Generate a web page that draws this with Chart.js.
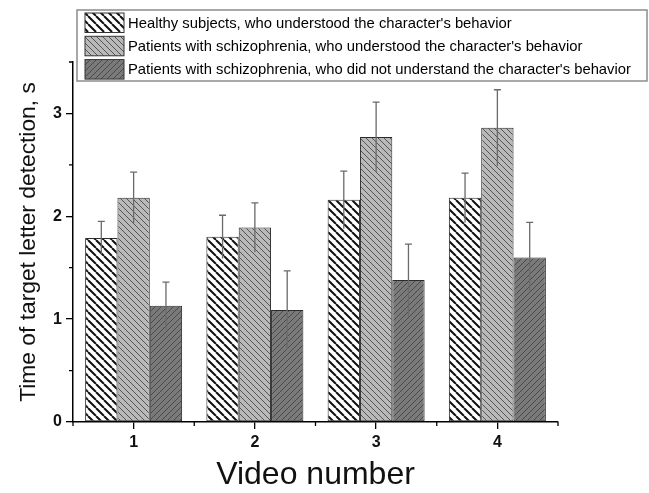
<!DOCTYPE html>
<html>
<head>
<meta charset="utf-8">
<script src="https://cdn.jsdelivr.net/npm/chart.js@4.4.0/dist/chart.umd.min.js"></script>
<style>
  html, body { margin: 0; padding: 0; background: #fff; }
  #wrap { width: 649px; height: 493px; }
</style>
</head>
<body>
<div id="wrap"><canvas id="bar-chart" width="649" height="493"></canvas></div>
<script>
// video clips on the x axis
const videos = ['1', '2', '3', '4'];

const seriesNames = [
  "Healthy subjects, who understood the character's behavior",
  "Patients with schizophrenia, who understood the character's behavior",
  "Patients with schizophrenia, who did not understand the character's behavior"
];

// mean detection time (s) and its error
const healthyTimes = [1.79, 1.80, 2.16, 2.18];
const healthyErr = [0.16, 0.21, 0.28, 0.24];
const understoodTimes = [2.18, 1.89, 2.77, 2.86];
const understoodErr = [0.25, 0.24, 0.34, 0.37];
const notUnderstoodTimes = [1.13, 1.09, 1.38, 1.60];
const notUnderstoodErr = [0.23, 0.38, 0.35, 0.34];

const yTicks = [0, 1, 2, 3];
const yMinorTicks = [0.5, 1.5, 2.5, 3.5];
const xMinorTicks = [-0.5, 0.5, 1.5, 2.5, 3.5];

const FONT = "'Liberation Sans', Arial, sans-serif";

// diagonal hatch fill for the bars
function hatch(bg, line, width, size, dir) {
  const c = document.createElement('canvas');
  c.width = size;
  c.height = size;
  const g = c.getContext('2d');
  g.fillStyle = bg;
  g.fillRect(0, 0, size, size);
  g.strokeStyle = line;
  g.lineWidth = width;
  g.beginPath();
  for (let k = -1; k <= 1; k++) {
    if (dir === 'back') {
      g.moveTo(k * size, 0);
      g.lineTo(k * size + size, size);
    } else {
      g.moveTo(k * size, size);
      g.lineTo(k * size + size, 0);
    }
  }
  g.stroke();
  return g.createPattern(c, 'repeat');
}

const fills = [
  hatch('#ffffff', '#111111', 2, 8, 'back'),
  hatch('#b9b9b9', '#555555', 1, 6, 'back'),
  hatch('#7a7a7a', '#4a4a4a', 1, 6, 'fwd')
];

const errors = [healthyErr, understoodErr, notUnderstoodErr];

// error bars with a cap on the upper end
const errorBars = {
  id: 'errorBars',
  afterDatasetsDraw(chart) {
    const ctx = chart.ctx;
    const y = chart.scales.y;
    ctx.save();
    ctx.strokeStyle = '#6a6a6a';
    ctx.lineWidth = 1.3;
    chart.data.datasets.forEach((ds, i) => {
      const meta = chart.getDatasetMeta(i);
      meta.data.forEach((bar, j) => {
        const v = ds.data[j];
        const e = errors[i][j];
        const top = y.getPixelForValue(v + e);
        const bottom = y.getPixelForValue(v - e);
        ctx.beginPath();
        ctx.moveTo(bar.x, bottom);
        ctx.lineTo(bar.x, top);
        ctx.moveTo(bar.x - 3.5, top);
        ctx.lineTo(bar.x + 3.5, top);
        ctx.stroke();
      });
    });
    ctx.restore();
  }
};

// short ticks at the half steps of both axes
const minorTicks = {
  id: 'minorTicks',
  afterDraw(chart) {
    const ctx = chart.ctx;
    const {x, y} = chart.scales;
    ctx.save();
    ctx.strokeStyle = '#000';
    ctx.lineWidth = 1.3;
    ctx.beginPath();
    yMinorTicks.forEach(v => {
      const py = y.getPixelForValue(v);
      ctx.moveTo(x.left, py);
      ctx.lineTo(x.left - 4, py);
    });
    xMinorTicks.forEach(v => {
      const px = x.getPixelForValue(v);
      ctx.moveTo(px, y.bottom);
      ctx.lineTo(px, y.bottom + 4);
    });
    ctx.stroke();
    ctx.restore();
  }
};

// framed legend sitting above the plot
const boxLegend = {
  id: 'boxLegend',
  afterDraw(chart) {
    const ctx = chart.ctx;
    const left = 77, top = 10, width = 570, height = 71;
    ctx.save();
    ctx.fillStyle = '#fff';
    ctx.fillRect(left, top, width, height);
    ctx.strokeStyle = '#8c8c8c';
    ctx.lineWidth = 1.5;
    ctx.strokeRect(left, top, width, height);
    ctx.font = '14.8px ' + FONT;
    ctx.textBaseline = 'middle';
    chart.data.datasets.forEach((ds, i) => {
      const rowY = top + 3 + i * 23.3;
      ctx.fillStyle = ds.backgroundColor;
      ctx.fillRect(left + 8, rowY, 39, 19.5);
      ctx.strokeStyle = '#333';
      ctx.lineWidth = 1;
      ctx.strokeRect(left + 8, rowY, 39, 19.5);
      ctx.fillStyle = '#000';
      ctx.fillText(ds.label, left + 51, rowY + 10.5);
    });
    ctx.restore();
  }
};

new Chart(document.getElementById('bar-chart').getContext('2d'), {
  type: 'bar',
  data: {
    labels: videos,
    datasets: [healthyTimes, understoodTimes, notUnderstoodTimes].map((values, i) => ({
      label: seriesNames[i],
      data: values,
      backgroundColor: fills[i],
      borderColor: '#2b2b2b',
      borderWidth: 1,
      borderSkipped: false,
      categoryPercentage: 0.8,
      barPercentage: 1.0
    }))
  },
  options: {
    responsive: false,
    animation: false,
    layout: { padding: { top: 62, right: 91, left: 0, bottom: 0 } },
    plugins: {
      legend: { display: false },
      tooltip: { enabled: false }
    },
    scales: {
      x: {
        offset: true,
        grid: { display: true, drawOnChartArea: false, drawTicks: true, tickLength: 7, offset: false, color: '#000', lineWidth: 1.3 },
        border: { color: '#000', width: 1.5 },
        ticks: { color: '#111', padding: 4, font: { family: FONT, size: 16, weight: 'bold' } },
        title: { display: true, text: 'Video number', color: '#111', padding: { top: 0, bottom: 2 }, font: { family: FONT, size: 32, lineHeight: 1 } },
        afterFit(scale) { scale.height = 71; }
      },
      y: {
        min: 0,
        max: 3.5,
        afterBuildTicks(scale) { scale.ticks = yTicks.map(v => ({ value: v })); },
        grid: { display: true, drawOnChartArea: false, drawTicks: true, tickLength: 7, color: '#000', lineWidth: 1.3 },
        border: { color: '#000', width: 1.5 },
        ticks: { color: '#111', padding: 4, font: { family: FONT, size: 16, weight: 'bold' } },
        title: { display: true, text: 'Time of target letter detection, s', color: '#111', padding: { top: 17, bottom: 0 }, font: { family: FONT, size: 22.8, lineHeight: 1 } },
        afterFit(scale) { scale.width = 73; }
      }
    }
  },
  plugins: [errorBars, minorTicks, boxLegend]
});
</script>
</body>
</html>
